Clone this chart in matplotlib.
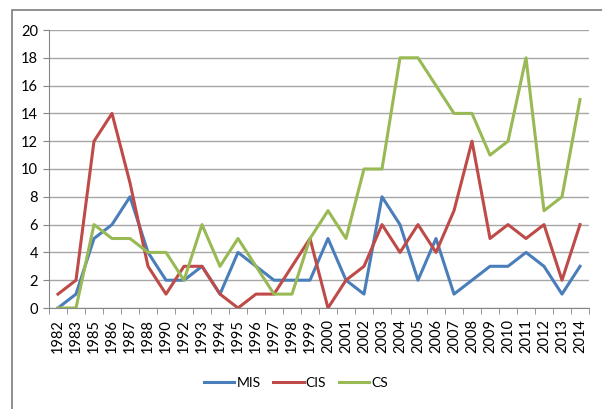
import matplotlib
matplotlib.use("Agg")
import matplotlib.pyplot as plt
from matplotlib.patches import Rectangle
import numpy as np

years = ["1982","1983","1985","1986","1987","1988","1990","1992","1993","1994",
         "1995","1996","1997","1998","1999","2000","2001","2002","2003","2004",
         "2005","2006","2007","2008","2009","2010","2011","2012","2013","2014"]
mis = [0,1,5,6,8,4,2,2,3,1,4,3,2,2,2,5,2,1,8,6,2,5,1,2,3,3,4,3,1,3]
cis = [1,2,12,14,9,3,1,3,3,1,0,1,1,3,5,0,2,3,6,4,6,4,7,12,5,6,5,6,2,6]
cs = [0,0,6,5,5,4,4,2,6,3,5,3,1,1,5,7,5,10,10,18,18,16,14,14,11,12,18,7,8,15]

W, H = 602, 409
fig = plt.figure(figsize=(W/100, H/100), dpi=100)
plt.rcParams['font.family'] = ['Lato', 'DejaVu Sans']

# outer chart border
fig.patches.append(Rectangle((12/W, -0.1), 1.2, (H-10)/H + 0.1, transform=fig.transFigure,
                             fill=False, edgecolor='#868686', linewidth=1.3))

ax = fig.add_axes([49/W, 1-308/H, (589-49)/W, (308-30)/H])
x = np.arange(len(years))
ax.plot(x, mis, color='#4A7EBB', lw=2.2, label='MIS')
ax.plot(x, cis, color='#BE4B48', lw=2.2, label='CIS')
ax.plot(x, cs, color='#98B954', lw=2.2, label='CS')

ax.set_xlim(-0.5, len(years)-0.5)
ax.set_ylim(0, 20)
ax.set_yticks(range(0, 21, 2))
ax.tick_params(axis='y', labelsize=10.5, length=4, color='#868686', pad=4)
ax.set_xticks(x)
ax.set_xticklabels(years, rotation=90, fontsize=10.5)
ax.tick_params(axis='x', length=0, pad=8)
ax.set_xticks(np.arange(-0.5, len(years), 1), minor=True)
ax.tick_params(axis='x', which='minor', length=4, color='#868686')
ax.grid(axis='y', color='#A6A6A6', lw=1)
ax.set_axisbelow(True)
for s in ['top', 'right']:
    ax.spines[s].set_visible(False)
for s in ['left', 'bottom']:
    ax.spines[s].set_color('#868686')

leg = fig.legend(loc='center', bbox_to_anchor=(296/W, 1-383/H), ncol=3, frameon=False,
                 fontsize=10, handlelength=2.2, columnspacing=0.9, handletextpad=0.15)

fig.savefig('out.png', dpi=100)
